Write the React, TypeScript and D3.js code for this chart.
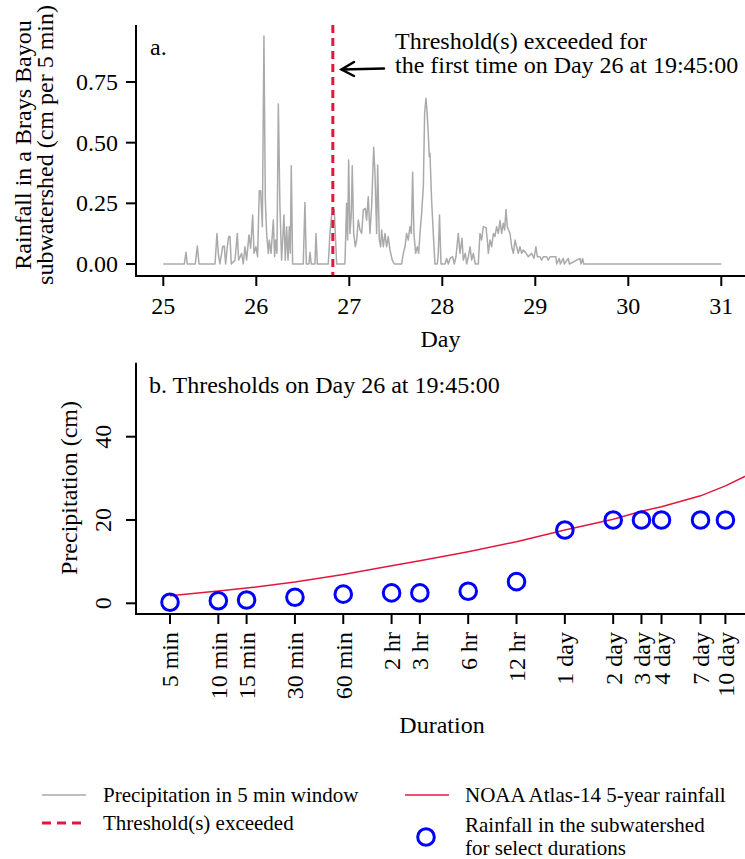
import React from "react";
import * as d3 from "d3";

// ---------- Panel a: 5-minute rainfall (day, cm) ----------
const rainDay = [
  25.0, 25.226, 25.244, 25.258, 25.344, 25.366, 25.384, 25.556, 25.577, 25.591, 25.609, 25.638, 25.656, 25.67,
  25.688, 25.703, 25.717, 25.731, 25.771, 25.796, 25.81, 25.842, 25.86, 25.878, 25.896, 25.921, 25.939, 25.961,
  25.975, 25.996, 26.014, 26.032, 26.047, 26.065, 26.082, 26.097, 26.111, 26.129, 26.14, 26.158, 26.183, 26.197,
  26.208, 26.222, 26.237, 26.254, 26.272, 26.287, 26.297, 26.312, 26.326, 26.341, 26.355, 26.366, 26.376, 26.391,
  26.505, 26.523, 26.538, 26.566, 26.577, 26.591, 26.631, 26.642, 26.656, 26.774, 26.792, 26.81, 26.821, 26.838,
  26.864, 26.953, 26.971, 26.982, 26.993, 27.007, 27.022, 27.032, 27.047, 27.065, 27.079, 27.097, 27.115, 27.133,
  27.151, 27.172, 27.186, 27.204, 27.222, 27.24, 27.262, 27.276, 27.294, 27.305, 27.323, 27.337, 27.348, 27.366,
  27.384, 27.401, 27.419, 27.437, 27.462, 27.484, 27.563, 27.581, 27.599, 27.616, 27.634, 27.652, 27.667, 27.681,
  27.695, 27.713, 27.731, 27.746, 27.76, 27.778, 27.796, 27.81, 27.824, 27.835, 27.849, 27.86, 27.867, 27.885,
  27.903, 27.921, 27.946, 27.957, 27.97, 27.986, 28.029, 28.047, 28.065, 28.083, 28.111, 28.129, 28.147, 28.172,
  28.19, 28.212, 28.226, 28.247, 28.262, 28.28, 28.298, 28.316, 28.334, 28.355, 28.387, 28.405, 28.423, 28.441,
  28.47, 28.484, 28.495, 28.513, 28.531, 28.549, 28.566, 28.584, 28.602, 28.62, 28.638, 28.656, 28.67, 28.685,
  28.699, 28.713, 28.728, 28.746, 28.764, 28.782, 28.799, 28.817, 28.835, 28.853, 28.871, 28.9, 28.925, 28.961,
  28.986, 29.007, 29.022, 29.05, 29.068, 29.086, 29.122, 29.14, 29.158, 29.222, 29.229, 29.258, 29.269, 29.301,
  29.312, 29.355, 29.366, 29.481, 29.491, 29.509, 29.52, 31.0,
];
const rainCm = [
  0, 0, 0.048, 0, 0, 0.074, 0, 0, 0.126, 0.044, 0, 0.071, 0.074, 0,
  0.071, 0.113, 0.113, 0, 0.016, 0.126, 0.016, 0.044, 0, 0.071, 0.016, 0.12, 0.065, 0.202,
  0.044, 0.071, 0.03, 0.302, 0.302, 0.154, 0.94, 0.264, 0.126, 0.044, 0.099, 0.044, 0.181, 0.03,
  0.099, 0.044, 0.659, 0.236, 0.016, 0.126, 0.202, 0.016, 0.154, 0.016, 0.154, 0.044, 0.405, 0,
  0, 0.253, 0, 0, 0.048, 0, 0, 0.126, 0, 0, 0.126, 0.202, 0.209, 0.223,
  0, 0, 0.25, 0.099, 0.429, 0.126, 0.209, 0.405, 0.126, 0.071, 0.099, 0.181, 0.14, 0.126,
  0.223, 0.229, 0.181, 0.277, 0.126, 0.236, 0.481, 0.374, 0.126, 0.408, 0.099, 0.071, 0.14, 0.071,
  0.126, 0.071, 0.113, 0.058, 0.016, 0, 0, 0.044, 0.071, 0.126, 0.099, 0.154, 0.126, 0.378,
  0.126, 0.044, 0.071, 0.044, 0.126, 0.209, 0.319, 0.621, 0.683, 0.635, 0.538, 0.442, 0.456, 0.264,
  0.126, 0, 0, 0.044, 0.202, 0, 0, 0.023, 0, 0.023, 0.03, 0, 0.03, 0.126,
  0.044, 0.106, 0.016, 0.044, 0, 0.03, 0.071, 0.016, 0.044, 0, 0, 0.126, 0.099, 0.154,
  0.15, 0.099, 0.044, 0.099, 0.071, 0.126, 0.113, 0.154, 0.126, 0.179, 0.126, 0.168, 0.14, 0.225,
  0.154, 0.14, 0.126, 0.071, 0.044, 0.099, 0.071, 0.044, 0.071, 0.044, 0.058, 0.044, 0.03, 0.044,
  0.023, 0.071, 0.03, 0.03, 0.016, 0.03, 0.03, 0.016, 0.03, 0.03, 0, 0.023, 0, 0.023,
  0, 0.023, 0, 0.023, 0, 0.023, 0, 0,
];
const dayTicks = [25, 26, 27, 28, 29, 30, 31];
const rainTicks = [0, 0.25, 0.5, 0.75];
const thresholdDay = 26 + 19.75 / 24;

// ---------- Panel b: thresholds by duration ----------
const durMinutes = [5, 10, 15, 30, 60, 120, 180, 360, 720, 1440, 2880, 4320, 5760, 10080, 14400];
const durLabels = [
  "5 min", "10 min", "15 min", "30 min", "60 min", "2 hr", "3 hr", "6 hr", "12 hr",
  "1 day", "2 day", "3 day", "4 day", "7 day", "10 day",
];
const observedCm = [0.24, 0.62, 0.78, 1.44, 2.2, 2.5, 2.5, 2.9, 5.2, 17.6, 20.0, 20.0, 20.0, 20.0, 20.0];
const noaaMinutes = [5, 10, 15, 30, 60, 120, 180, 360, 720, 1440, 2880, 4320, 5760, 10080, 14400, 28800];
const noaaCm = [1.83, 2.95, 3.65, 5.1, 6.9, 9.0, 10.2, 12.4, 14.8, 17.6, 20.2, 22.1, 23.2, 25.8, 28.2, 33.8];
const precipTicks = [0, 20, 40];

const FONT = "'Liberation Serif', 'Times New Roman', serif";
const RED = "#E3173E";
const GRAY = "#AAAAAA";
const BLUE = "#0000FF";

export default function App() {
  const W = 745, H = 859;
  const left = 136, right = 745;

  // panel a scales
  const xA = d3.scaleLinear().domain([25, 31]).range([163.3, 721.3]);
  const yA = d3.scaleLinear().domain([0, 0.75]).range([264, 82]);
  const aTop = 25, aBottom = 276;
  const rainPts = rainDay.map((d, i) => [d, rainCm[i]] as [number, number]);
  const rainLine = d3.line<[number, number]>().x((d) => xA(d[0])).y((d) => yA(d[1]))(rainPts) || "";

  // panel b scales
  const xB = d3.scaleLog().domain([5, 14400]).range([170, 725.4]);
  const yB = d3.scaleLinear().domain([0, 40]).range([603.3, 436.7]);
  const bTop = 362.7, bBottom = 614;
  const noaaPts = noaaMinutes.map((m, i) => [m, noaaCm[i]] as [number, number]);
  const noaaLine = d3.line<[number, number]>().x((d) => xB(d[0])).y((d) => yB(d[1]))(noaaPts) || "";

  const tx = xA(thresholdDay);

  return (
    <svg
      width={W}
      height={H}
      style={{ position: "absolute", left: 0, top: 0, background: "#fff" }}
      fontFamily={FONT}
    >
      <defs>
        <clipPath id="clipB">
          <rect x={left} y={bTop} width={right - left} height={bBottom - bTop} />
        </clipPath>
      </defs>
      <rect x={0} y={0} width={W} height={H} fill="#fff" />

      {/* ===== Panel a ===== */}
      <path d={rainLine} fill="none" stroke={GRAY} strokeWidth={1.5} strokeLinejoin="round" />
      <line x1={tx} x2={tx} y1={aTop} y2={aBottom} stroke={RED} strokeWidth={3} strokeDasharray="8,5" />
      {/* axes */}
      <line x1={left} x2={left} y1={aTop} y2={aBottom} stroke="#000" strokeWidth={2} />
      <line x1={left - 1} x2={right} y1={aBottom} y2={aBottom} stroke="#000" strokeWidth={2} />
      {rainTicks.map((t) => (
        <g key={"ya" + t}>
          <line x1={left - 10} x2={left} y1={yA(t)} y2={yA(t)} stroke="#000" strokeWidth={2} />
          <text x={118} y={yA(t)} dy="0.33em" textAnchor="end" fontSize={24}>
            {d3.format(".2f")(t)}
          </text>
        </g>
      ))}
      {dayTicks.map((t) => (
        <g key={"xa" + t}>
          <line x1={xA(t)} x2={xA(t)} y1={aBottom} y2={aBottom + 10} stroke="#000" strokeWidth={2} />
          <text x={xA(t)} y={314} textAnchor="middle" fontSize={24}>
            {t}
          </text>
        </g>
      ))}
      <text x={440.5} y={347} textAnchor="middle" fontSize={24}>Day</text>
      <text transform="translate(31,145) rotate(-90)" textAnchor="middle" fontSize={24}>
        Rainfall in a Brays Bayou
      </text>
      <text transform="translate(53,145) rotate(-90)" textAnchor="middle" fontSize={24}>
        subwatershed (cm per 5 min)
      </text>
      <text x={150} y={55} fontSize={24}>a.</text>
      <text x={395} y={49} fontSize={24}>Threshold(s) exceeded for</text>
      <text x={395} y={73} fontSize={24}>the first time on Day 26 at 19:45:00</text>
      {/* arrow */}
      <g stroke="#000" strokeWidth={2.5} fill="none" strokeLinecap="round">
        <line x1={384} y1={68.5} x2={342} y2={69.5} />
        <polyline points={`${354},${62} ${341.5},${69.5} ${354},${76}`} />
      </g>

      {/* ===== Panel b ===== */}
      <path d={noaaLine} fill="none" stroke={RED} strokeWidth={1.5} clipPath="url(#clipB)" />
      {durMinutes.map((m, i) => (
        <circle key={"c" + m} cx={xB(m)} cy={yB(observedCm[i])} r={8.3} fill="none" stroke={BLUE} strokeWidth={3} />
      ))}
      <line x1={left} x2={left} y1={bTop} y2={bBottom} stroke="#000" strokeWidth={2} />
      <line x1={left - 1} x2={right} y1={bBottom} y2={bBottom} stroke="#000" strokeWidth={2} />
      {precipTicks.map((t) => (
        <g key={"yb" + t}>
          <line x1={left - 10} x2={left} y1={yB(t)} y2={yB(t)} stroke="#000" strokeWidth={2} />
          <text transform={`translate(111,${yB(t)}) rotate(-90)`} textAnchor="middle" fontSize={24}>
            {t}
          </text>
        </g>
      ))}
      {durMinutes.map((m, i) => (
        <g key={"xb" + m}>
          <line x1={xB(m)} x2={xB(m)} y1={bBottom} y2={bBottom + 10} stroke="#000" strokeWidth={2} />
          <text
            transform={`translate(${xB(m)},632) rotate(-90)`}
            textAnchor="end"
            dy="0.35em"
            fontSize={24}
          >
            {durLabels[i]}
          </text>
        </g>
      ))}
      <text x={442} y={732.7} textAnchor="middle" fontSize={24}>Duration</text>
      <text transform="translate(77,488) rotate(-90)" textAnchor="middle" fontSize={24}>
        Precipitation (cm)
      </text>
      <text x={149} y={392.7} fontSize={24}>b. Thresholds on Day 26 at 19:45:00</text>

      {/* ===== Legend ===== */}
      <line x1={42} x2={86} y1={795} y2={795} stroke={GRAY} strokeWidth={1.5} />
      <text x={103} y={802} fontSize={21}>Precipitation in 5 min window</text>
      <line x1={42} x2={86} y1={823} y2={823} stroke={RED} strokeWidth={3} strokeDasharray="9,6" />
      <text x={103} y={830} fontSize={21}>Threshold(s) exceeded</text>
      <line x1={405} x2={449} y1={795} y2={795} stroke={RED} strokeWidth={1.5} />
      <text x={465} y={802} fontSize={21}>NOAA Atlas-14 5-year rainfall</text>
      <circle cx={426} cy={837} r={8.3} fill="none" stroke={BLUE} strokeWidth={3} />
      <text x={465} y={832} fontSize={21}>Rainfall in the subwatershed</text>
      <text x={465} y={855} fontSize={21}>for select durations</text>
    </svg>
  );
}
